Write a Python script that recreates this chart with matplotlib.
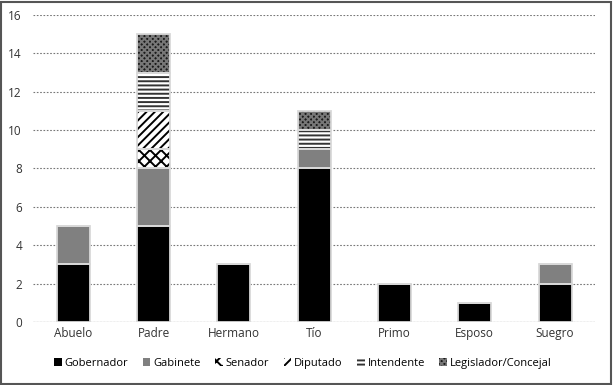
import matplotlib.pyplot as plt
import numpy as np
from matplotlib.patches import Rectangle

plt.rcParams['font.family'] = ['Open Sans', 'DejaVu Sans']
plt.rcParams['hatch.linewidth'] = 1.4

categories = ['Abuelo', 'Padre', 'Hermano', 'Tío', 'Primo', 'Esposo', 'Suegro']
gobernador = [3, 5, 3, 8, 2, 1, 2]
gabinete = [2, 3, 0, 1, 0, 0, 1]
senador = [0, 1, 0, 0, 0, 0, 0]
diputado = [0, 2, 0, 0, 0, 0, 0]
intendente = [0, 2, 0, 1, 0, 0, 0]
legislador = [0, 2, 0, 1, 0, 0, 0]

series = [
    ('Gobernador', gobernador, 'black', 'black', None),
    ('Gabinete', gabinete, '#808080', '#808080', None),
    ('Senador', senador, 'white', 'black', 'xxx'),
    ('Diputado', diputado, 'white', 'black', '////'),
    ('Intendente', intendente, 'white', '#333333', '----'),
    ('Legislador/Concejal', legislador, '#1a1a1a', '#777777', 'xxxxxx'),
]

fig = plt.figure(figsize=(6.13, 3.85), dpi=100)
ax = fig.add_axes([0.054, 0.164, 0.917, 0.797])

x = np.arange(len(categories))
w = 0.41
bottom = np.zeros(len(categories))
handles = []
for name, vals, fc, hc, hatch in series:
    vals = np.array(vals, dtype=float)
    b = ax.bar(x, vals, w, bottom=bottom, color=fc, edgecolor=hc, linewidth=0,
               hatch=hatch, label=name, zorder=2)
    ax.bar(x, vals, w, bottom=bottom, fill=False, edgecolor='#d9d9d9',
           linewidth=1.3, zorder=3)
    handles.append(b)
    bottom += vals

ax.set_ylim(0, 16)
ax.set_xlim(-0.5, len(categories) - 0.5)
ax.set_yticks(range(0, 17, 2))
ax.set_xticks(x)
ax.set_xticklabels(categories)
ax.tick_params(length=0, labelsize=8.5, colors='#333333')
ax.tick_params(axis='y', pad=8)
ax.yaxis.grid(True, linestyle=(0, (1.5, 1.5)), color='#777777', linewidth=0.8, zorder=0)
for s in ax.spines.values():
    s.set_visible(False)
ax.axhline(0, color='#d9d9d9', linewidth=1, zorder=1)

ax.legend(handles=handles, loc='upper center', bbox_to_anchor=(0.48, -0.085),
          ncol=6, frameon=False, fontsize=8, handlelength=0.7, handleheight=0.7,
          handletextpad=0.25, columnspacing=1.3)

fig.patches.append(Rectangle((0.002, 0.003), 0.995, 0.993, transform=fig.transFigure,
                             fill=False, edgecolor='#555555', linewidth=1.5))

fig.savefig('out.png', dpi=100)
